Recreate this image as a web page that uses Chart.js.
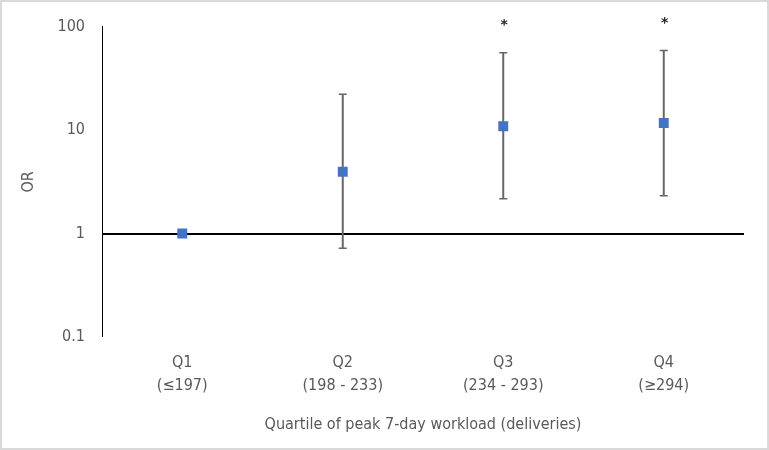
<!DOCTYPE html>
<html>
<head>
<meta charset="utf-8">
<script src="https://cdn.jsdelivr.net/npm/chart.js@4.4.0/dist/chart.umd.min.js"></script>
<style>
  html, body { margin: 0; padding: 0; background: #fff; }
  #wrap { position: relative; width: 769px; height: 450px; }
  #frame { position: absolute; left: 0; top: 0; width: 765px; height: 446px; border: 2px solid #d9d9d9; pointer-events: none; }
</style>
</head>
<body>
<div id="wrap">
  <canvas id="chart" width="769" height="450"></canvas>
  <div id="frame"></div>
</div>
<script>
const categories = [["Q1", "(≤197)"], ["Q2", "(198 - 233)"], ["Q3", "(234 - 293)"], ["Q4", "(≥294)"]];
const oddsRatio = [1, 3.95, 10.9, 11.7];
const ciLower = [null, 0.72, 2.17, 2.32];
const ciUpper = [null, 22.2, 56, 58.6];
const significant = [false, false, true, true];
const yTicks = [0.1, 1, 10, 100];

const textColor = '#595959';
const fontFamily = "'DejaVu Sans Condensed', sans-serif";

const errorBars = {
  id: 'errorBars',
  beforeDatasetsDraw(chart) {
    const ctx = chart.ctx;
    const x = chart.scales.x;
    const y = chart.scales.y;
    ctx.save();
    ctx.strokeStyle = '#666';
    for (let i = 0; i < oddsRatio.length; i++) {
      if (ciLower[i] == null) continue;
      const px = x.getPixelForValue(i);
      const top = y.getPixelForValue(ciUpper[i]);
      const bot = y.getPixelForValue(ciLower[i]);
      ctx.lineWidth = 2;
      ctx.beginPath();
      ctx.moveTo(px, top);
      ctx.lineTo(px, bot);
      ctx.stroke();
      ctx.lineWidth = 1.5;
      ctx.beginPath();
      ctx.moveTo(px - 4, top);
      ctx.lineTo(px + 4, top);
      ctx.moveTo(px - 4, bot);
      ctx.lineTo(px + 4, bot);
      ctx.stroke();
    }
    ctx.restore();
  },
  afterDatasetsDraw(chart) {
    const ctx = chart.ctx;
    const x = chart.scales.x;
    const y = chart.scales.y;
    ctx.save();
    ctx.fillStyle = '#222';
    ctx.font = "bold 14px 'DejaVu Sans', sans-serif";
    ctx.textAlign = 'center';
    ctx.textBaseline = 'middle';
    for (let i = 0; i < significant.length; i++) {
      if (!significant[i]) continue;
      ctx.fillText('*', x.getPixelForValue(i) + 1, y.getPixelForValue(ciUpper[i]) - 27);
    }
    ctx.restore();
  }
};

new Chart(document.getElementById('chart'), {
  type: 'line',
  data: {
    labels: categories,
    datasets: [{
      label: 'OR',
      data: oddsRatio,
      showLine: false,
      pointStyle: 'rect',
      pointRadius: 7,
      pointHoverRadius: 7,
      pointBackgroundColor: '#4472C4',
      pointBorderColor: '#4472C4',
      pointBorderWidth: 0
    }]
  },
  options: {
    responsive: false,
    animation: false,
    layout: { padding: { left: 0, right: 25, top: 25, bottom: 0 } },
    plugins: {
      legend: { display: false },
      tooltip: { enabled: false }
    },
    scales: {
      x: {
        type: 'category',
        offset: true,
        grid: { display: false, drawTicks: false },
        border: { display: false },
        ticks: {
          color: textColor,
          padding: 15,
          maxRotation: 0,
          font: { family: fontFamily, size: 16, lineHeight: 1.4 }
        },
        title: {
          display: true,
          text: 'Quartile of peak 7-day workload (deliveries)',
          color: textColor,
          font: { family: fontFamily, size: 16 },
          padding: { top: 0, bottom: 16 }
        },
        afterFit(scale) { scale.height = 113; }
      },
      y: {
        type: 'logarithmic',
        min: 0.1,
        max: 100,
        afterBuildTicks(scale) {
          scale.ticks = yTicks.map(v => ({ value: v }));
        },
        ticks: {
          color: textColor,
          padding: 17,
          font: { family: fontFamily, size: 16 },
          callback: v => String(v)
        },
        grid: {
          drawTicks: false,
          color: c => c.tick && c.tick.value === 1 ? '#000' : 'rgba(0,0,0,0)',
          lineWidth: c => c.tick && c.tick.value === 1 ? 2 : 0
        },
        border: { display: true, color: '#000', width: 1 },
        title: {
          display: true,
          text: 'OR',
          color: textColor,
          font: { family: fontFamily, size: 16 },
          padding: { top: 19, bottom: 0 }
        },
        afterFit(scale) { scale.width = 102; }
      }
    }
  },
  plugins: [errorBars]
});
</script>
</body>
</html>
